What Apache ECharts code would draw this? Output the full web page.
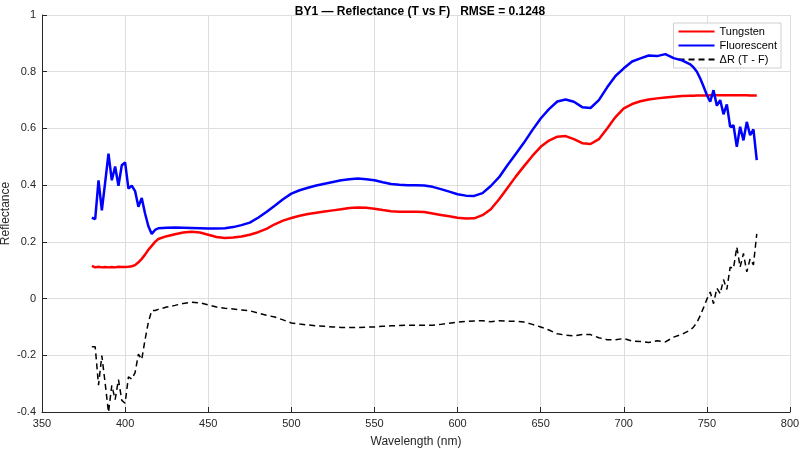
<!DOCTYPE html>
<html>
<head>
<meta charset="utf-8">
<title>BY1 Reflectance</title>
<script src="https://cdn.jsdelivr.net/npm/echarts@6/dist/echarts.min.js"></script>
<style>
  html, body { margin: 0; padding: 0; background: #fff; }
  #chart { width: 800px; height: 451px; }
</style>
</head>
<body>
<div id="chart"></div>
<script>
// wavelengths (nm), finer steps where the fluorescent curve is noisy
const wavelengths = [
  380, 382, 384, 386, 388, 390, 392, 394, 396, 398, 400, 402, 404, 406, 408, 410, 412, 414, 416, 418, 420,
  425, 430, 435, 440, 445, 450, 455, 460, 465, 470, 475, 480, 485, 490, 495, 500, 505, 510, 515, 520,
  525, 530, 535, 540, 545, 550, 555, 560, 565, 570, 575, 580, 585, 590, 595, 600, 605, 610, 615, 620,
  625, 630, 635, 640, 645, 650, 655, 660, 665, 670, 675, 680, 685, 690, 695, 700, 705, 710, 715, 720,
  725, 730, 735,
  740, 742, 744, 746, 748, 750, 752, 754, 756, 758, 760, 762, 764, 766, 768, 770, 772, 774, 776, 778, 780
];

const tungsten = [
  0.115, 0.110, 0.112, 0.110, 0.111, 0.110, 0.111, 0.110, 0.112, 0.111, 0.111, 0.112, 0.114, 0.118, 0.128, 0.140, 0.155, 0.172, 0.186, 0.200, 0.210,
  0.220, 0.227, 0.233, 0.236, 0.233, 0.225, 0.217, 0.214, 0.215, 0.219, 0.225, 0.234, 0.246, 0.262, 0.275, 0.284, 0.292, 0.298, 0.303, 0.307,
  0.311, 0.315, 0.319, 0.321, 0.320, 0.317, 0.312, 0.308, 0.306, 0.306, 0.306, 0.305, 0.300, 0.295, 0.290, 0.285, 0.282, 0.283, 0.294, 0.315,
  0.350, 0.390, 0.430, 0.467, 0.503, 0.535, 0.557, 0.571, 0.573, 0.562, 0.548, 0.545, 0.562, 0.600, 0.640, 0.671, 0.686, 0.696, 0.702, 0.706,
  0.709, 0.712, 0.714,
  0.715, 0.715, 0.716, 0.716, 0.716, 0.716, 0.717, 0.717, 0.717, 0.717, 0.717, 0.717, 0.717, 0.717, 0.717, 0.717, 0.717, 0.717, 0.716, 0.716, 0.716
];

const fluorescent = [
  0.285, 0.280, 0.417, 0.311, 0.410, 0.511, 0.417, 0.466, 0.398, 0.470, 0.480, 0.388, 0.398, 0.379, 0.324, 0.355, 0.300, 0.255, 0.228, 0.242, 0.248,
  0.250, 0.251, 0.250, 0.249, 0.248, 0.247, 0.247, 0.248, 0.252, 0.259, 0.268, 0.285, 0.305, 0.327, 0.350, 0.370, 0.382, 0.391, 0.399, 0.405,
  0.411, 0.417, 0.421, 0.423, 0.421, 0.417, 0.410, 0.404, 0.401, 0.400, 0.400, 0.399, 0.394, 0.386, 0.377, 0.368, 0.363, 0.362, 0.372, 0.397,
  0.428, 0.470, 0.510, 0.550, 0.594, 0.635, 0.668, 0.695, 0.702, 0.694, 0.675, 0.672, 0.700, 0.745, 0.785, 0.812, 0.836, 0.847, 0.857, 0.855,
  0.862, 0.848, 0.840,
  0.826, 0.815, 0.800, 0.776, 0.748, 0.718, 0.694, 0.735, 0.680, 0.700, 0.650, 0.685, 0.606, 0.611, 0.535, 0.606, 0.558, 0.623, 0.576, 0.597, 0.488
];

const seriesNames = ['Tungsten', 'Fluorescent', 'ΔR (T - F)'];
const titleText = 'BY1 \u2014 Reflectance (T vs F)   RMSE = 0.1248';

// ΔR is the difference of the two measured curves
const deltaR = tungsten.map((t, i) => +(t - fluorescent[i]).toFixed(4));

const pairs = (ys) => wavelengths.map((w, i) => [w, ys[i]]);

const FONT = 'Liberation Sans, Arial, Helvetica, sans-serif';
const AXIS_COLOR = '#262626';
const GRID_COLOR = '#dedede';

const chart = echarts.init(document.getElementById('chart'), null, { renderer: 'canvas' });

chart.setOption({
    animation: false,
    backgroundColor: '#ffffff',
    title: {
        text: titleText,
        left: 415,
        top: 1,
        textAlign: 'center',
        textStyle: {
            fontFamily: FONT,
            fontSize: 12,
            fontWeight: 'bold',
            color: '#000'
        }
    },
    legend: {
        data: seriesNames,
        orient: 'vertical',
        right: 19,
        top: 23,
        itemWidth: 36,
        itemHeight: 10,
        itemGap: 3,
        padding: [3, 4, 3, 4],
        backgroundColor: '#fff',
        borderColor: '#cfcfcf',
        borderWidth: 1,
        borderRadius: 0,
        itemStyle: { opacity: 0 },
        textStyle: {
            fontFamily: FONT,
            fontSize: 11,
            color: '#000'
        }
    },
    grid: {
        left: 42,
        right: 10,
        top: 15,
        bottom: 39,
        containLabel: false,
        outerBoundsMode: 'none'
    },
    xAxis: {
        type: 'value',
        min: 350,
        max: 800,
        interval: 50,
        name: 'Wavelength (nm)',
        nameLocation: 'middle',
        nameGap: 24,
        nameMoveOverlap: false,
        nameTextStyle: { fontFamily: FONT, fontSize: 12, color: AXIS_COLOR },
        axisLine: { onZero: false, lineStyle: { color: AXIS_COLOR, width: 1 } },
        axisTick: { inside: true, length: 5, lineStyle: { color: AXIS_COLOR } },
        axisLabel: { fontFamily: FONT, fontSize: 11, color: AXIS_COLOR, margin: 6 },
        splitLine: { show: true, lineStyle: { color: GRID_COLOR, width: 1 } }
    },
    yAxis: {
        type: 'value',
        min: -0.4,
        max: 1,
        interval: 0.2,
        name: 'Reflectance',
        nameLocation: 'middle',
        nameRotate: 90,
        nameGap: 30,
        nameMoveOverlap: false,
        nameTextStyle: { fontFamily: FONT, fontSize: 12, color: AXIS_COLOR },
        axisLine: { show: true, onZero: false, lineStyle: { color: AXIS_COLOR, width: 1 } },
        axisTick: { show: true, inside: true, length: 5, lineStyle: { color: AXIS_COLOR } },
        axisLabel: {
            fontFamily: FONT,
            fontSize: 11,
            color: AXIS_COLOR,
            margin: 6,
            formatter: (v) => String(+v.toFixed(1))
        },
        splitLine: { show: true, lineStyle: { color: GRID_COLOR, width: 1 } }
    },
    series: [
        {
            name: seriesNames[0],
            type: 'line',
            data: pairs(tungsten),
            symbol: 'none',
            lineStyle: { color: '#ff0000', width: 2.5 },
            itemStyle: { color: '#ff0000' },
            z: 3
        },
        {
            name: seriesNames[1],
            type: 'line',
            data: pairs(fluorescent),
            symbol: 'none',
            lineStyle: { color: '#0000ff', width: 2.5 },
            itemStyle: { color: '#0000ff' },
            z: 4
        },
        {
            name: seriesNames[2],
            type: 'line',
            data: pairs(deltaR),
            symbol: 'none',
            lineStyle: { color: '#000000', width: 1.5, type: [6, 4] },
            itemStyle: { color: '#000000' },
            z: 2
        }
    ]
});
</script>
</body>
</html>
